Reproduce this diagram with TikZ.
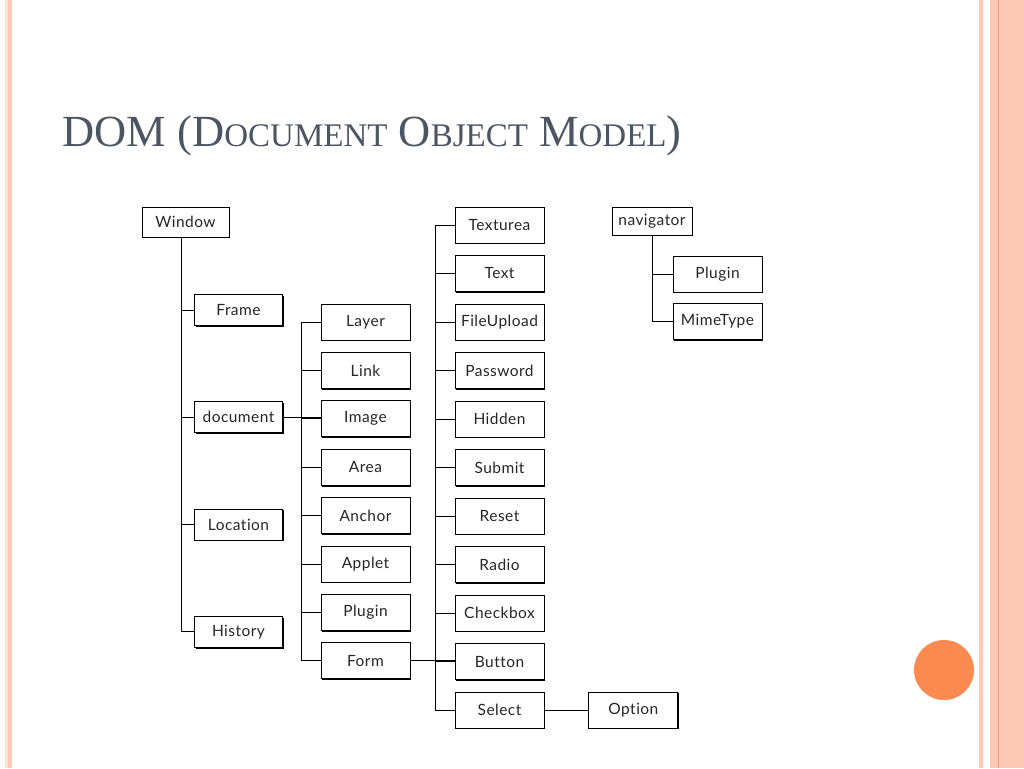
\documentclass[tikz,border=0pt]{standalone}
\usepackage{fontspec}
\setmainfont{Liberation Serif}
\newfontfamily\boxfont[LetterSpace=3,Ligatures=NoCommon]{Lato}
\usetikzlibrary{positioning,shadows}
\definecolor{titlegray}{HTML}{4B5563}
\definecolor{borderpink}{HTML}{FDC8B4}
\definecolor{borderpale}{HTML}{FBE3D6}
\definecolor{borderdark}{HTML}{E59C7E}
\definecolor{dotorange}{HTML}{FA8A4F}
\newcommand{\smcaps}[1]{{\fontsize{33}{36}\selectfont #1}}
\tikzset{
  basic/.style  = {draw, line width=0.9pt, fill=white, rectangle, inner sep=0pt,
                   font=\boxfont\fontsize{15.5}{18}\selectfont, text=black!85,
                   drop shadow={shadow xshift=1.3pt, shadow yshift=-1.3pt,
                                opacity=1, fill=black}},
  root/.style   = {basic, minimum width=87pt, minimum height=30pt},
  level 2/.style = {basic, minimum width=88pt, minimum height=31pt},
  level 3/.style = {basic, minimum width=89pt, minimum height=36pt}
}

\begin{document}
\begin{tikzpicture}[x=1pt, y=-1pt, line width=0.9pt]

% fondo y bordes de la diapositiva
\fill[white] (0,0) rectangle (1024,768);
\useasboundingbox (0,0) rectangle (1024,768);
\fill[borderpale] (5,0) rectangle (8,768);
\fill[borderpink] (8,0) rectangle (12,768);
\fill[borderpink] (979,0) rectangle (983,768);
\fill[borderpink] (990,0) rectangle (1024,768);
\draw[borderdark, line width=0.8pt] (998,0) -- (998,768);
\fill[dotorange] (944,670) circle (30);

\node[anchor=base west, inner sep=0pt, text=titlegray, font=\fontsize{44.5}{50}\selectfont]
  (title) at (62,146) {DOM (D\smcaps{OCUMENT} O\smcaps{BJECT} M\smcaps{ODEL})};

% raiz y primer nivel
\node[root] (window) at (185.5,222) {Window};
\node[level 2] (frame) at (238.5,310) {Frame};
\begin{scope}[every node/.style={level 2}, node distance=107.3pt]
\node [below of = frame] (document) {document};
\node [below of = document] (location) {Location};
\node [below of = location] (history) {History};
\end{scope}

% segundo nivel: hijos de document
\node[level 3] (layer) at (365.5,322) {Layer};
\begin{scope}[every node/.style={level 3}, node distance=48.4pt]
\node [below of = layer] (link) {Link};
\node [below of = link] (image) {Image};
\node [below of = image] (area) {Area};
\node [below of = area] (anchor) {Anchor};
\node [below of = anchor] (applet) {Applet};
\node [below of = applet] (plugin) {Plugin};
\node [below of = plugin] (form) {Form};
\end{scope}

% tercer nivel: hijos de Form
\node[level 3] (texturea) at (499.5,225) {Texturea};
\begin{scope}[every node/.style={level 3}, node distance=48.5pt]
\node [below of = texturea] (text) {Text};
\node [below of = text] (fileupload) {FileUpload};
\node [below of = fileupload] (password) {Password};
\node [below of = password] (hidden) {Hidden};
\node [below of = hidden] (submit) {Submit};
\node [below of = submit] (reset) {Reset};
\node [below of = reset] (radio) {Radio};
\node [below of = radio] (checkbox) {Checkbox};
\node [below of = checkbox] (button) {Button};
\node [below of = button] (select) {Select};
\end{scope}
\node[level 3, right=44pt of select] (option) {Option};

% navigator
\node[root, minimum width=80pt, minimum height=28pt] (navigator) at (652,221) {navigator};
\node[level 3] (navplugin) at (717.5,274) {Plugin};
\node[level 3, below of=navplugin, node distance=47.5pt] (mimetype) {MimeType};

% conectores
\foreach \value in {frame,document,location,history}
  \draw ([xshift=-4.5pt]window.south) |- (\value.west);
\foreach \value in {layer,link,image,area,anchor,applet,plugin,form}
  \draw ([xshift=-19pt]layer.west) |- (\value.west);
\foreach \value in {texturea,text,fileupload,password,hidden,submit,reset,radio,checkbox,button,select}
  \draw ([xshift=-19.5pt]texturea.west) |- (\value.west);
\foreach \value in {navplugin,mimetype}
  \draw (navigator.south) |- (\value.west);
\draw (document.east) -- (document.east -| image.west);
\draw (form.east) -- (form.east -| button.west);
\draw (select.east) -- (option.west);
\end{tikzpicture}
\end{document}
